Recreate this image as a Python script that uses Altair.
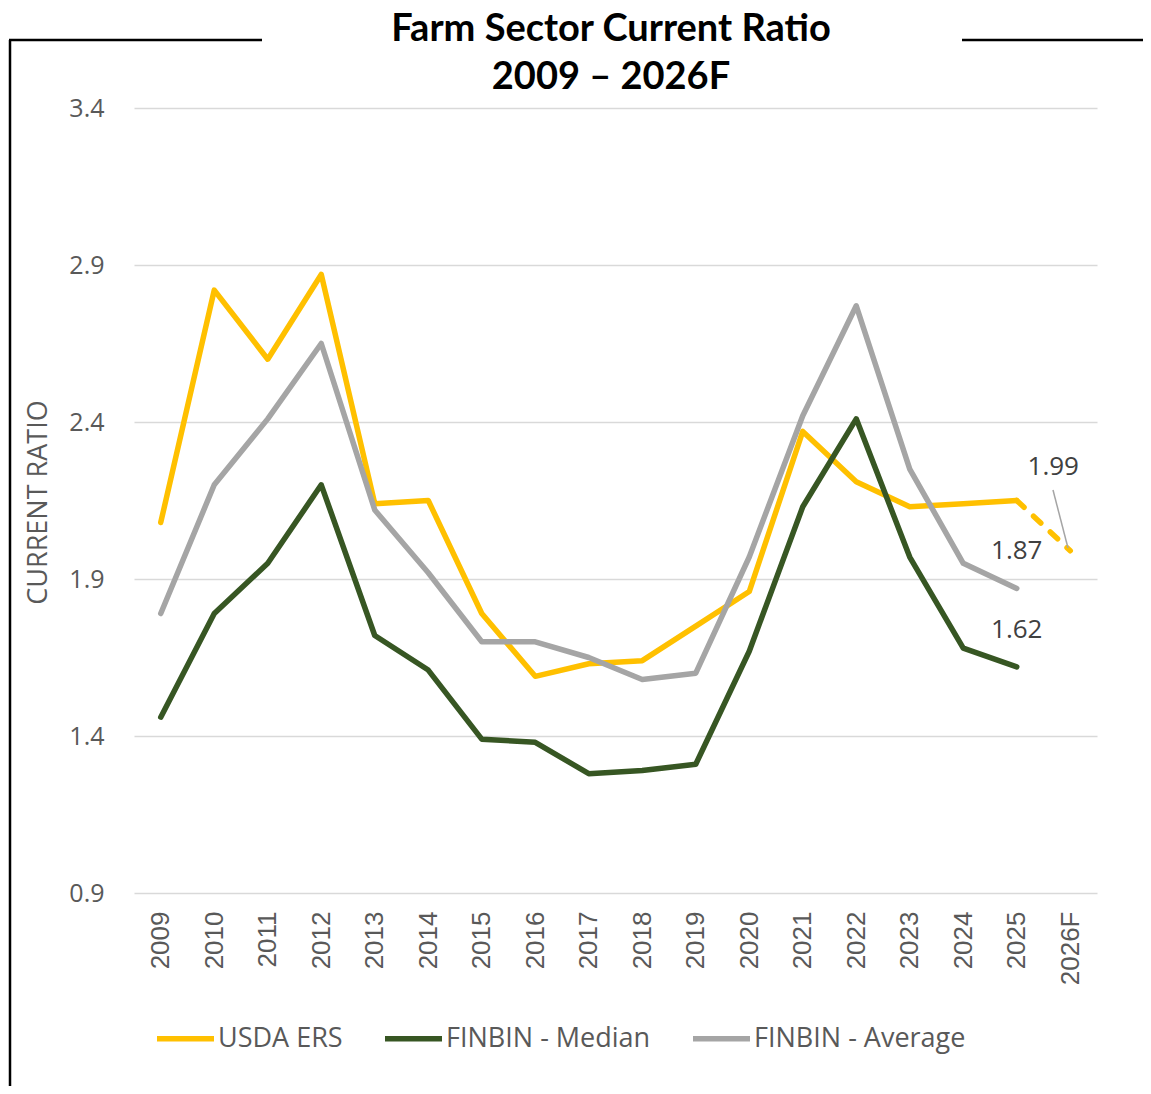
import altair as alt
import pandas as pd

years = [str(y) for y in range(2009, 2026)] + ["2026F"]
usda_ers = [2.08, 2.82, 2.60, 2.87, 2.14, 2.15, 1.79, 1.59, 1.63, 1.64, 1.75, 1.86, 2.37, 2.21, 2.13, 2.14, 2.15]
finbin_median = [1.46, 1.79, 1.95, 2.20, 1.72, 1.61, 1.39, 1.38, 1.28, 1.29, 1.31, 1.67, 2.13, 2.41, 1.97, 1.68, 1.62]
finbin_average = [1.79, 2.20, 2.41, 2.65, 2.12, 1.92, 1.70, 1.70, 1.65, 1.58, 1.60, 1.97, 2.42, 2.77, 2.25, 1.95, 1.87]
usda_forecast = 1.99

series_names = ["USDA ERS", "FINBIN - Median", "FINBIN - Average"]
series_colors = ["#FFC000", "#375623", "#A5A5A5"]
y_ticks = [0.9, 1.4, 1.9, 2.4, 2.9, 3.4]
title_lines = ["Farm Sector Current Ratio", "2009 \u2013 2026F"]

rows = []
for name, vals in zip(series_names, [usda_ers, finbin_median, finbin_average]):
    for yr, v in zip(years, vals):
        rows.append({"year": yr, "value": v, "series": name})
df = pd.DataFrame(rows)
fc = pd.DataFrame({"year": ["2025", "2026F"], "value": [usda_ers[-1], usda_forecast]})
lab_a = pd.DataFrame({"year": ["2025", "2025"], "value": [finbin_average[-1], finbin_median[-1]],
                      "label": [f"{finbin_average[-1]:.2f}", f"{finbin_median[-1]:.2f}"]})
lab_b = pd.DataFrame({"year": ["2026F"], "value": [usda_forecast], "label": [f"{usda_forecast:.2f}"]})
one = pd.DataFrame({"a": [0]})

W, H = 963, 785
GRAY = "#595959"

x_enc = alt.X("year:O", scale=alt.Scale(type="point", padding=0.5, domain=years),
              axis=alt.Axis(title=None, labelAngle=-90, labelFont="Liberation Sans", labelFontSize=26,
                            labelColor=GRAY, labelPadding=18, ticks=False, domain=False, grid=False))
y_enc = alt.Y("value:Q", scale=alt.Scale(domain=[0.9, 3.4], zero=False, nice=False),
              axis=alt.Axis(title="CURRENT RATIO", values=y_ticks, format=".1f", labelFont="Open Sans",
                            labelFontSize=25, labelColor=GRAY, labelPadding=30, ticks=False, domain=False,
                            gridColor="#D9D9D9", gridWidth=1.5,
                            titleFont="Open Sans", titleFontSize=27, titleFontWeight="normal",
                            titleColor=GRAY, titleX=-96, titleY=394, titleAngle=-90,
                            titleAlign="center", titleBaseline="middle"))

lines = alt.Chart(df).mark_line(strokeWidth=5.5, strokeCap="round", strokeJoin="round").encode(
    x=x_enc, y=y_enc,
    color=alt.Color("series:N", scale=alt.Scale(domain=series_names, range=series_colors),
                    legend=alt.Legend(title=None, orient="none", legendX=20, legendY=899, direction="horizontal",
                                      symbolType="stroke", symbolSize=3249, symbolStrokeWidth=5.5,
                                      labelFont="Open Sans", labelFontSize=27, labelColor=GRAY,
                                      labelLimit=0, labelOffset=1, columnPadding=31)),
    order=alt.Order("year:O"),
)

forecast = alt.Chart(fc).mark_line(strokeWidth=5.5, strokeCap="round", strokeDash=[10, 13], color="#FFC000").encode(
    x=alt.X("year:O", scale=alt.Scale(type="point", padding=0.5, domain=years)), y="value:Q")

txt_a = alt.Chart(lab_a).mark_text(font="Open Sans", fontSize=26, color="#404040", dy=-37).encode(
    x="year:O", y="value:Q", text="label:N")
txt_b = alt.Chart(lab_b).mark_text(font="Open Sans", fontSize=26, color="#404040", dx=-17, dy=-84).encode(
    x="year:O", y="value:Q", text="label:N")
leader = alt.Chart(one).mark_rule(color="#A5A5A5", strokeWidth=1.5).encode(
    x=alt.value(919), x2=alt.value(934), y=alt.value(382), y2=alt.value(440))

title1 = alt.Chart(one).mark_text(font="Lato", fontSize=38, fontWeight="bold", color="black",
                                  baseline="middle", align="center").encode(
    x=alt.value(477), y=alt.value(-78), text=alt.value(title_lines[0]))
title2 = alt.Chart(one).mark_text(font="Lato", fontSize=38, fontWeight="bold", color="black",
                                  baseline="middle", align="center").encode(
    x=alt.value(477), y=alt.value(-30), text=alt.value(title_lines[1]))

frame_left = alt.Chart(one).mark_rule(color="black", strokeWidth=2.5).encode(
    x=alt.value(-124), y=alt.value(-68), y2=alt.value(990))
frame_top1 = alt.Chart(one).mark_rule(color="black", strokeWidth=2.5).encode(
    x=alt.value(-125), x2=alt.value(128), y=alt.value(-68))
frame_top2 = alt.Chart(one).mark_rule(color="black", strokeWidth=2.5).encode(
    x=alt.value(828), x2=alt.value(1020), y=alt.value(-68))

chart = alt.layer(lines, forecast, txt_a, txt_b, leader, title1, title2,
                  frame_left, frame_top1, frame_top2).properties(
    width=W, height=H,
    autosize=alt.AutoSizeParams(type="none"),
    padding={"left": 126, "top": 100, "right": 46, "bottom": 193},
).configure_view(stroke=None)

chart.save("out.html", embed_options={"renderer": "svg", "actions": False})
